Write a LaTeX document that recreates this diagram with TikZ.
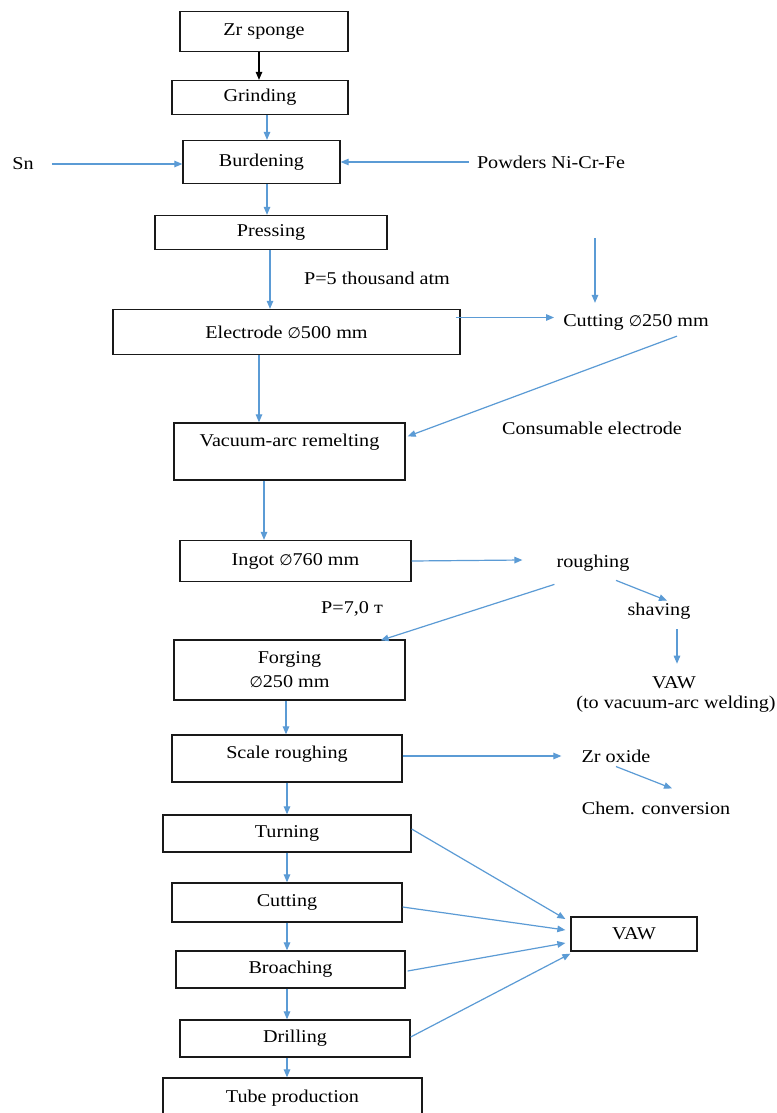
\documentclass[tikz,border=0pt]{standalone}
\usepackage{fontspec}
\setmainfont[FakeStretch=1.12]{Liberation Serif}
\newfontfamily\symf[Scale=0.85]{DejaVu Sans}
\usetikzlibrary{arrows.meta,calc}
\newcommand{\dia}{{\symf ∅}}
\definecolor{arrblue}{RGB}{91,155,213}
\definecolor{boxline}{RGB}{25,25,25}
\begin{document}
\begin{tikzpicture}[x=1pt,y=-1pt,
  txt/.style={font=\fontsize{18}{24}\selectfont, text=black},
  box/.style={txt, draw=boxline, line width=1.3pt, inner sep=0pt, align=center},
  lbl/.style={txt, inner sep=0pt},
  arr/.style={draw=arrblue, line width=1.2pt, -{Triangle[length=8pt,width=6.5pt]}},
  blk/.style={draw=black, line width=1.2pt, -{Triangle[length=8pt,width=6.5pt]}}]
\path[use as bounding box, fill=white] (0,0) rectangle (776,1113);
\clip (0,0) rectangle (776,1113);

% boxes
\node[box, minimum width=168pt, minimum height=40pt] (zr) at (264,31.5) {Zr sponge};
\node[box, minimum width=176pt, minimum height=34pt] (grind) at (260,97.5) {Grinding};
\node[box, minimum width=157pt, minimum height=43pt] (burd) at (261.5,162) {Burdening};
\node[box, minimum width=232pt, minimum height=34pt] (press) at (271,232.5) {Pressing};
\node[box, minimum width=347pt, minimum height=45pt] (elec) at (286.5,332) {Electrode \dia500 mm};
\node[box, minimum width=231pt, minimum height=57pt] (var) at (289.5,451.5) {};
\node[lbl] (varl) at (289.5,442) {Vacuum-arc remelting};
\node[box, minimum width=231pt, minimum height=41pt] (ingot) at (295.5,561) {Ingot \dia760 mm};
\node[box, minimum width=231pt, minimum height=60pt] (forg) at (289.5,670) {Forging\\\dia250 mm};
\node[box, minimum width=230pt, minimum height=47pt] (scale) at (287,758.5) {};
\node[lbl] (scalel) at (287,754) {Scale roughing};
\node[box, minimum width=248pt, minimum height=37pt] (turn) at (287,833.5) {Turning};
\node[box, minimum width=230pt, minimum height=39pt] (cut) at (287,902.5) {Cutting};
\node[box, minimum width=229pt, minimum height=37pt] (broach) at (290.5,969.5) {Broaching};
\node[box, minimum width=230pt, minimum height=37pt] (drill) at (295,1038.5) {Drilling};
\node[box, minimum width=259pt, minimum height=46pt] (tube) at (292.5,1101) {};
\node[lbl] (tubel) at (292.5,1098) {Tube production};
\node[box, minimum width=126pt, minimum height=34pt] (vaw2) at (634,934) {VAW};

% free texts
\node[lbl] (sn) at (23,164) {Sn};
\node[lbl] (powd) at (551,162) {Powders Ni-Cr-Fe};
\node[lbl] (p5) at (377,278) {P=5 thousand atm};
\node[lbl] (cutd) at (636,322) {Cutting \dia250 mm};
\node[lbl] (cons) at (592,428) {Consumable electrode};
\node[lbl] (rough) at (593,563) {roughing};
\node[lbl] (shav) at (659,611) {shaving};
\node[lbl] (vawt) at (674,683) {VAW};
\node[lbl] (tovaw) at (676,704) {(to vacuum-arc welding)};
\node[lbl] (p7) at (352,609) {P=7,0 т};
\node[lbl] (zrox) at (616,756) {Zr oxide};
\node[lbl] (chem) at (656,808) {Chem. conversion};

% guide coordinates
\coordinate (x1) at (259,0);
\coordinate (x2) at (267,0);
\coordinate (x3) at (270,0);
\coordinate (x5) at (264,0);
\coordinate (x6) at (286,0);
\coordinate (x7) at (287,0);
\coordinate (x8) at (677,0);
\coordinate (ctop) at (595,238);

% connectors
\draw[blk] (zr.south -| x1) -- (grind.north -| x1);
\draw[arr] (grind.south -| x2) -- (burd.north -| x2);
\draw[arr] (burd.south -| x2) -- (press.north -| x2);
\draw[arr] ($(sn.east)+(18,0)$) -- (sn.east -| burd.west);
\draw[arr] ($(powd.west)+(-8,0)$) -- (powd.west -| burd.east);
\draw[arr] (press.south -| x3) -- (elec.north -| x3);
\draw[arr, shorten >=11pt] (ctop) -- (ctop |- cutd.north);
\draw[arr] ($(elec.east)+(-5,-14.5)$) -- ($(cutd.west)+(-9,-4.5)$);
\draw[arr] ($(cutd.south)+(41,6)$) -- ($(var.north east)+(2,14)$);
\draw[arr] (elec.south -| x1) -- (var.north -| x1);
\draw[arr] (var.south -| x5) -- (ingot.north -| x5);
\draw[arr] (ingot.east) -- ($(rough.west)+(-34,-3)$);
\draw[arr] ($(rough.south)+(23,9)$) -- ($(shav.north)+(8,-2)$);
\draw[arr] ($(shav.south -| x8)+(0,10)$) -- ($(vawt.north -| x8)+(0,-13)$);
\draw[arr] ($(rough.south west)+(-2,13)$) -- ($(forg.north east)+(-25,1)$);
\draw[arr] (forg.south -| x6) -- (scale.north -| x6);
\draw[arr] ($(scale.east)+(0,-2.5)$) -- ($(zrox.west)+(-20,0)$);
\draw[arr] ($(zrox.south)+(0,4)$) -- ($(chem.north)+(16,-13)$);
\draw[arr] (scale.south -| x7) -- (turn.north -| x7);
\draw[arr] (turn.south -| x7) -- (cut.north -| x7);
\draw[arr] (cut.south -| x7) -- (broach.north -| x7);
\draw[arr] (broach.south -| x7) -- (drill.north -| x7);
\draw[arr] (drill.south -| x7) -- (tube.north -| x7);
\draw[arr] ($(turn.east)+(0,-4.5)$) -- ($(vaw2.west)+(-5,-15)$);
\draw[arr] ($(cut.east)+(0,4.5)$) -- ($(vaw2.west)+(-5,-4)$);
\draw[arr] ($(broach.east)+(2,1.5)$) -- ($(vaw2.west)+(-5,9)$);
\draw[arr] ($(drill.east)+(0,-1.5)$) -- ($(vaw2.south west)+(0,2)$);
\end{tikzpicture}
\end{document}
